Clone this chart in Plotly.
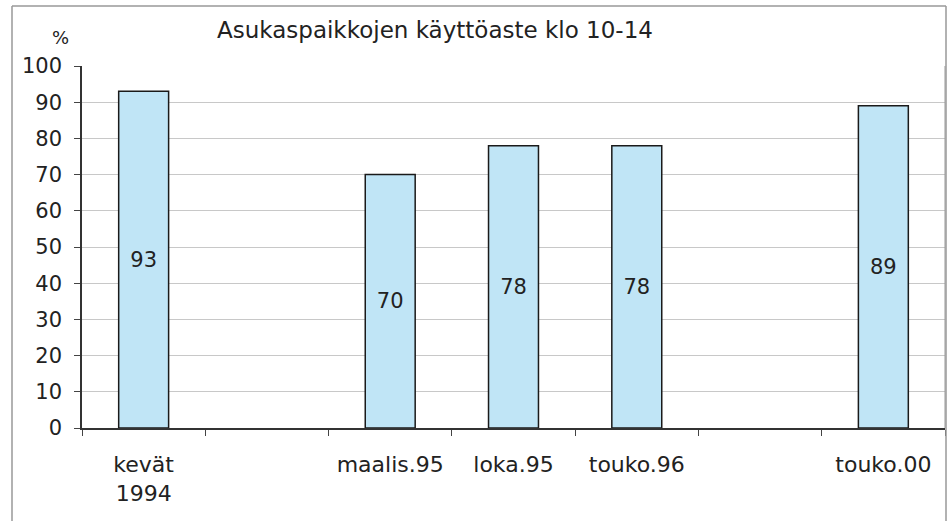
import plotly.graph_objects as go

categories = ["kevät<br>1994", " ", "maalis.95", "loka.95", "touko.96", "  ", "touko.00"]
values = [93, None, 70, 78, 78, None, 89]
bar_text = ["93", "", "70", "78", "78", "", "89"]
title_text = "Asukaspaikkojen käyttöaste klo 10-14"
y_unit = "%"
y_ticks = [0, 10, 20, 30, 40, 50, 60, 70, 80, 90, 100]

FONT = "DejaVu Sans"
TXT = "#222222"

fig = go.Figure()
fig.add_trace(go.Bar(
    x=categories, y=values, text=bar_text,
    textposition="inside", insidetextanchor="middle", textangle=0,
    textfont=dict(family=FONT, size=21, color=TXT),
    marker=dict(color="#c0e5f6", line=dict(color="#1a1a1a", width=1.5)),
    showlegend=False, hoverinfo="x+y",
))

W, H = 947, 521
L, R, T, B = 82, 2, 66, 93
pw, ph = W - L - R, H - T - B

def px(x):
    return (x - L) / pw

def py(y):
    return (H - B - y) / ph

fig.update_layout(
    width=W, height=H,
    margin=dict(l=L, r=R, t=T, b=B),
    paper_bgcolor="white", plot_bgcolor="white",
    bargap=0.595,
    font=dict(family=FONT, size=21, color=TXT),
    xaxis=dict(
        type="category", categoryorder="array", categoryarray=categories,
        tickson="boundaries", ticks="outside", ticklen=6, tickcolor="#444",
        showline=True, linecolor="#333", linewidth=1.5,
        showgrid=False, ticklabelstandoff=16,
        tickfont=dict(family=FONT, size=22, color=TXT),
    ),
    yaxis=dict(
        range=[0, 100], tickvals=y_ticks, ticks="outside", ticklen=6, tickcolor="#444",
        showline=True, linecolor="#333", linewidth=1.5,
        showgrid=True, gridcolor="#c8c8c8", gridwidth=1,
        zeroline=False, ticklabelstandoff=8,
        tickfont=dict(family=FONT, size=21, color=TXT),
    ),
    annotations=[
        dict(text=title_text, xref="paper", yref="paper", x=px(435), y=py(30),
             xanchor="center", yanchor="middle", showarrow=False,
             font=dict(family=FONT, size=23, color=TXT)),
        dict(text=y_unit, xref="paper", yref="paper", x=px(60), y=py(38),
             xanchor="center", yanchor="middle", showarrow=False,
             font=dict(family=FONT, size=18, color=TXT)),
    ],
    shapes=[
        # outer frame
        dict(type="line", xref="paper", yref="paper", x0=px(12), x1=px(946), y0=py(6), y1=py(6),
             line=dict(color="#999", width=1.5)),
        dict(type="line", xref="paper", yref="paper", x0=px(12), x1=px(12), y0=py(6), y1=py(521),
             line=dict(color="#999", width=1.5)),
        dict(type="line", xref="paper", yref="paper", x0=px(946), x1=px(946), y0=py(6), y1=py(521),
             line=dict(color="#999", width=1.5)),
        # plot area right border
        dict(type="line", xref="paper", yref="paper", x0=1, x1=1, y0=0, y1=1,
             line=dict(color="#999", width=1)),
    ],
)

fig.write_html("out.html", config={"displayModeBar": False},
               post_script="document.body.style.margin='0';document.body.style.overflow='hidden';")
